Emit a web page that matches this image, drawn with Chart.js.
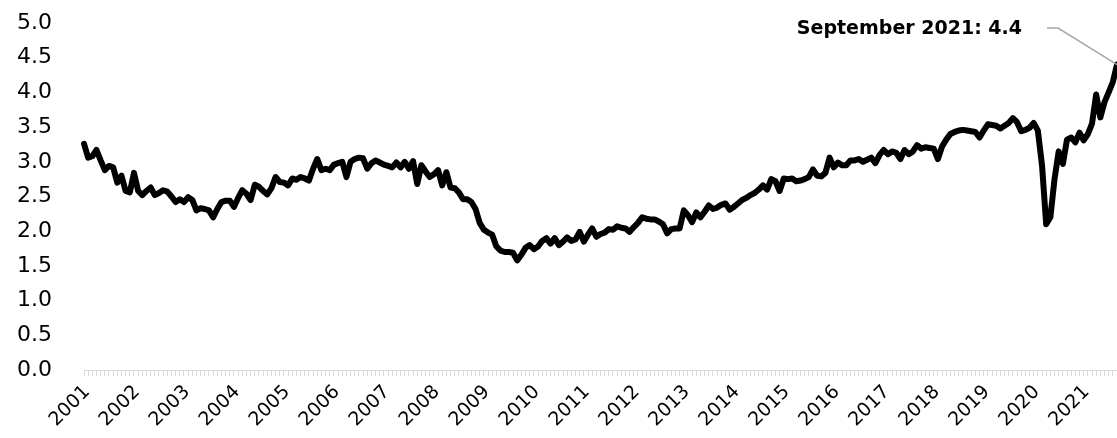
<!DOCTYPE html>
<html>
<head>
<meta charset="utf-8">
<script src="https://cdn.jsdelivr.net/npm/chart.js@4/dist/chart.umd.min.js"></script>
<style>
  html, body { margin: 0; padding: 0; background: #fff; }
  canvas { display: block; }
</style>
</head>
<body>
<canvas id="quits" width="1117" height="438"></canvas>
<script>
// quits, millions, monthly (Jan..Dec)
const years = ['2001', '2002', '2003', '2004', '2005', '2006', '2007', '2008', '2009', '2010', '2011',
  '2012', '2013', '2014', '2015', '2016', '2017', '2018', '2019', '2020', '2021'];

const q2001 = [3.26, 3.06, 3.08, 3.17, 3.02, 2.88, 2.94, 2.92, 2.70, 2.80, 2.58, 2.56];
const q2002 = [2.84, 2.58, 2.52, 2.58, 2.63, 2.52, 2.55, 2.59, 2.57, 2.50, 2.42, 2.46];
const q2003 = [2.42, 2.49, 2.45, 2.30, 2.33, 2.32, 2.30, 2.20, 2.32, 2.42, 2.44, 2.44];
const q2004 = [2.35, 2.48, 2.59, 2.54, 2.45, 2.67, 2.64, 2.58, 2.53, 2.62, 2.78, 2.71];
const q2005 = [2.70, 2.66, 2.76, 2.74, 2.78, 2.76, 2.73, 2.90, 3.04, 2.88, 2.90, 2.88];
const q2006 = [2.96, 2.98, 3.00, 2.78, 3.00, 3.04, 3.06, 3.05, 2.90, 2.98, 3.02, 2.99];
const q2007 = [2.96, 2.94, 2.92, 2.99, 2.92, 3.00, 2.90, 3.01, 2.68, 2.95, 2.86, 2.78];
const q2008 = [2.82, 2.88, 2.66, 2.85, 2.63, 2.62, 2.56, 2.46, 2.46, 2.42, 2.32, 2.12];
const q2009 = [2.02, 1.98, 1.95, 1.78, 1.72, 1.70, 1.70, 1.69, 1.58, 1.66, 1.76, 1.80];
const q2010 = [1.74, 1.78, 1.86, 1.90, 1.82, 1.90, 1.80, 1.85, 1.91, 1.86, 1.88, 1.99];
const q2011 = [1.85, 1.95, 2.04, 1.92, 1.96, 1.98, 2.03, 2.02, 2.07, 2.05, 2.04, 1.99];
const q2012 = [2.06, 2.12, 2.20, 2.18, 2.17, 2.17, 2.14, 2.10, 1.97, 2.03, 2.04, 2.04];
const q2013 = [2.30, 2.23, 2.13, 2.27, 2.20, 2.28, 2.37, 2.32, 2.34, 2.38, 2.40, 2.31];
const q2014 = [2.35, 2.40, 2.45, 2.48, 2.52, 2.55, 2.60, 2.66, 2.60, 2.75, 2.72, 2.58];
const q2015 = [2.76, 2.75, 2.76, 2.72, 2.73, 2.75, 2.78, 2.89, 2.80, 2.79, 2.84, 3.06];
const q2016 = [2.92, 2.99, 2.95, 2.95, 3.02, 3.02, 3.04, 3.00, 3.03, 3.06, 2.98, 3.10];
const q2017 = [3.17, 3.11, 3.15, 3.13, 3.04, 3.17, 3.11, 3.15, 3.24, 3.19, 3.21, 3.20];
const q2018 = [3.19, 3.04, 3.22, 3.32, 3.40, 3.43, 3.45, 3.46, 3.45, 3.44, 3.43, 3.35];
const q2019 = [3.45, 3.54, 3.53, 3.52, 3.48, 3.52, 3.56, 3.63, 3.57, 3.44, 3.46, 3.49];
const q2020 = [3.56, 3.45, 2.95, 2.10, 2.20, 2.75, 3.15, 2.97, 3.32, 3.35, 3.28, 3.42];
const q2021 = [3.31, 3.40, 3.55, 3.97, 3.64, 3.86, 4.00, 4.15, 4.40];

const yearValues = [q2001, q2002, q2003, q2004, q2005, q2006, q2007, q2008, q2009, q2010, q2011,
  q2012, q2013, q2014, q2015, q2016, q2017, q2018, q2019, q2020, q2021];

const calloutText = 'September 2021: 4.4';

const labels = [];
const values = [];
years.forEach((y, i) => {
  yearValues[i].forEach((v, m) => {
    labels.push(y + '-' + (m + 1));
    values.push(v);
  });
});

// callout with grey leader line to the last point
const callout = {
  id: 'callout',
  afterDatasetsDraw(chart) {
    const ctx = chart.ctx;
    const pt = chart.getDatasetMeta(0).data[values.length - 1];
    const ty = chart.chartArea.top + 5;
    ctx.save();
    ctx.strokeStyle = '#a6a6a6';
    ctx.lineWidth = 1.5;
    ctx.beginPath();
    ctx.moveTo(pt.x, pt.y);
    ctx.lineTo(pt.x - 59, ty);
    ctx.lineTo(pt.x - 70, ty);
    ctx.stroke();
    ctx.fillStyle = '#000';
    ctx.font = 'bold 19px "DejaVu Sans"';
    ctx.textAlign = 'right';
    ctx.textBaseline = 'middle';
    ctx.fillText(calloutText, pt.x - 95, ty + 1);
    ctx.restore();
  }
};

const noPad = (scale) => {
  scale.paddingTop = 0;
  scale.paddingBottom = 0;
  scale.paddingLeft = 0;
  scale.paddingRight = 0;
};

new Chart(document.getElementById('quits'), {
  type: 'line',
  data: {
    labels: labels,
    datasets: [{
      data: values,
      borderColor: '#000',
      borderWidth: 6,
      pointRadius: 0,
      tension: 0,
      borderJoinStyle: 'round',
      borderCapStyle: 'round'
    }]
  },
  options: {
    responsive: false,
    animation: false,
    layout: { padding: { top: 23, right: 0, left: 0, bottom: 0 } },
    plugins: { legend: { display: false }, tooltip: { enabled: false } },
    scales: {
      x: {
        grid: { drawOnChartArea: false, color: '#d9d9d9', tickLength: 6 },
        border: { color: '#d9d9d9' },
        afterFit: (scale) => { noPad(scale); scale.height = 68; },
        ticks: {
          autoSkip: false,
          minRotation: 45,
          maxRotation: 45,
          padding: 5,
          labelOffset: 3,
          color: '#000',
          font: { family: 'DejaVu Sans', size: 19 },
          callback: (v, i) => (i % 12 === 0 ? labels[i].split('-')[0] : '')
        }
      },
      y: {
        min: 0,
        max: 5,
        grid: { display: false, drawTicks: false },
        border: { display: false },
        afterFit: (scale) => { noPad(scale); scale.width = 84; },
        ticks: {
          stepSize: 0.5,
          padding: 32,
          color: '#000',
          font: { family: 'DejaVu Sans', size: 22 },
          callback: (v) => v.toFixed(1)
        }
      }
    }
  },
  plugins: [callout]
});
</script>
</body>
</html>
